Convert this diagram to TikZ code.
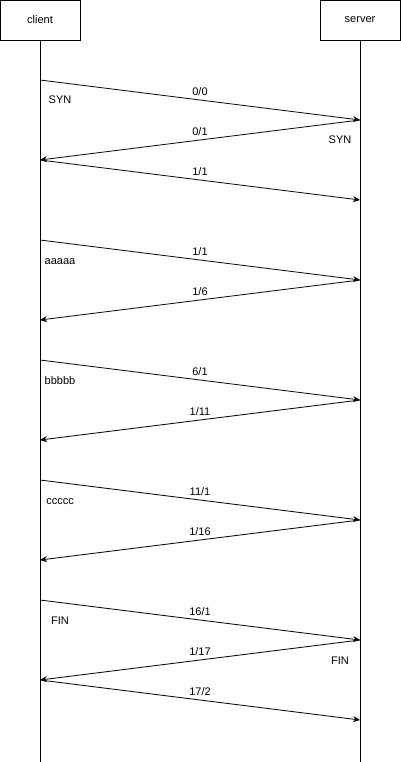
\documentclass[tikz,border=0pt]{standalone}
\usepackage{fontspec}
\setmainfont{Liberation Sans}
\usetikzlibrary{arrows.meta, positioning}

\begin{document}
\begin{tikzpicture}[
    x=1pt, y=-1pt,
    font=\fontsize{11}{13}\selectfont,
    party/.style={rectangle, draw, minimum width=80pt, minimum height=40pt, inner sep=0pt},
    lifeline/.style={line width=0.8pt},
    msg/.style={-{Stealth[length=7pt, width=6pt]}, line width=0.8pt},
    seqlbl/.style={midway, anchor=base, yshift=4.5pt, inner sep=0pt},
    side/.style={anchor=base, inner sep=0pt}
]
\useasboundingbox (0,0) rectangle (401,762);

% Nodes
\node[party] (client) at (40,20) {client};
\node[party] (server) at (360,20) {server};
\coordinate (cend) at (40,762);
\coordinate (send) at (360,762);

% handshake
\coordinate (c1) at (40,80);   \coordinate (s1) at (360,120);
\coordinate (c2) at (40,160);  \coordinate (s2) at (360,200);
% data
\coordinate (c3) at (40,240);  \coordinate (s3) at (360,280);
\coordinate (c4) at (40,320);
\coordinate (c5) at (40,360);  \coordinate (s5) at (360,400);
\coordinate (c6) at (40,440);
\coordinate (c7) at (40,480);  \coordinate (s7) at (360,520);
\coordinate (c8) at (40,560);
% close
\coordinate (c9) at (40,600);  \coordinate (s9) at (360,640);
\coordinate (c10) at (40,680); \coordinate (s10) at (360,720);

% Lifelines
\draw[lifeline] (client.south) -- (cend);
\draw[lifeline] (server.south) -- (send);

% Arrows
\draw[msg] (c1) -- node[seqlbl] {0/0} (s1);
\draw[msg] (s1) -- node[seqlbl] {0/1} (c2);
\draw[msg] (c2) -- node[seqlbl] {1/1} (s2);

\draw[msg] (c3) -- node[seqlbl] {1/1} (s3);
\draw[msg] (s3) -- node[seqlbl] {1/6} (c4);

\draw[msg] (c5) -- node[seqlbl] {6/1} (s5);
\draw[msg] (s5) -- node[seqlbl] {1/11} (c6);

\draw[msg] (c7) -- node[seqlbl] {11/1} (s7);
\draw[msg] (s7) -- node[seqlbl] {1/16} (c8);

\draw[msg] (c9) -- node[seqlbl] {16/1} (s9);
\draw[msg] (s9) -- node[seqlbl] {1/17} (c10);
\draw[msg] (c10) -- node[seqlbl] {17/2} (s10);

% Side labels
\node[side] (syn1) at ([shift={(20,24)}]c1) {SYN};
\node[side] (syn2) at ([shift={(-20,24)}]s1) {SYN};
\node[side] (dataa) at ([shift={(20,24)}]c3) {aaaaa};
\node[side] (datab) at ([shift={(20,24)}]c5) {bbbbb};
\node[side] (datac) at ([shift={(20,24)}]c7) {ccccc};
\node[side] (fin1) at ([shift={(20,24)}]c9) {FIN};
\node[side] (fin2) at ([shift={(-20,24)}]s9) {FIN};

\end{tikzpicture}
\end{document}
